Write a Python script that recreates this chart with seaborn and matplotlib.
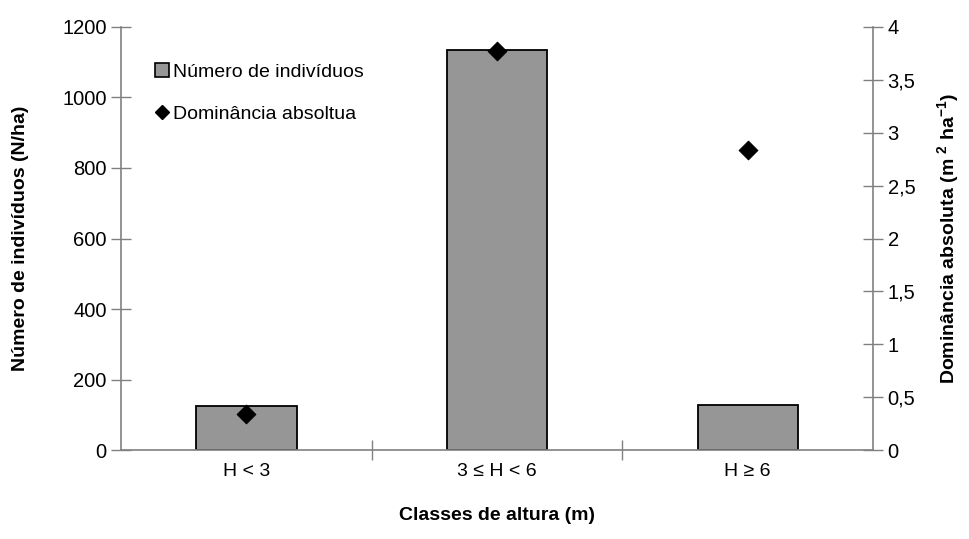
import numpy as np
import pandas as pd
import matplotlib
matplotlib.use("Agg")
import matplotlib.pyplot as plt
from matplotlib.patches import Patch
from matplotlib.lines import Line2D
import matplotlib.ticker as mticker
import seaborn as sns

# data
classes = ["H < 3", "3 ≤ H < 6", "H ≥ 6"]
individuos = [124, 1136, 129]        # N/ha
dominancia = [0.34, 3.77, 2.84]      # m2/ha

sns.set_theme(style="white")
plt.rcParams["font.family"] = ["Liberation Sans", "DejaVu Sans"]
plt.rcParams["text.color"] = "black"
plt.rcParams["axes.labelcolor"] = "black"
plt.rcParams["xtick.color"] = "black"
plt.rcParams["ytick.color"] = "black"
plt.rcParams["mathtext.fontset"] = "custom"
plt.rcParams["mathtext.rm"] = "Liberation Sans:bold"
plt.rcParams["mathtext.it"] = "Liberation Sans:bold"
plt.rcParams["mathtext.bf"] = "Liberation Sans:bold"

df = pd.DataFrame({"classe": classes, "n": individuos, "dom": dominancia,
                   "pos": np.arange(len(classes))})

fig = plt.figure(figsize=(9.69, 5.39), dpi=100)
ax = fig.add_axes([0.125, 0.165, 0.776, 0.785])

sns.barplot(data=df, x="classe", y="n", ax=ax, color="#969696",
            saturation=1, width=0.4, edgecolor="black", linewidth=1.3)

ax2 = ax.twinx()
sns.scatterplot(data=df, x="pos", y="dom", ax=ax2, marker="D", s=90,
                color="black", edgecolor="black", zorder=5, legend=False)

ax.set_xlim(-0.5, len(classes) - 0.5)
ax.set_ylim(0, 1200)
ax.set_yticks(np.arange(0, 1201, 200))
ax2.set_ylim(0, 4)
ax2.set_yticks(np.arange(0, 4.01, 0.5))
ax2.yaxis.set_major_formatter(mticker.FuncFormatter(
    lambda v, p: f"{v:g}".replace(".", ",")))

spine_col = "#808080"
for a in (ax, ax2):
    a.spines["top"].set_visible(False)
    for s in ("left", "right", "bottom"):
        a.spines[s].set_color(spine_col)
        a.spines[s].set_linewidth(1.2)
ax.spines["right"].set_visible(False)
ax2.spines["left"].set_visible(False)
ax2.spines["bottom"].set_visible(False)

# category labels without ticks, ticks at the boundaries
ax.xaxis.set_minor_locator(mticker.FixedLocator([0.5, 1.5]))
ax.tick_params(axis="x", which="major", length=0, pad=9, labelsize=14)
ax.tick_params(axis="x", which="minor", direction="inout", length=14,
               color=spine_col, width=1, bottom=True)
ax.tick_params(axis="y", direction="inout", length=15, color=spine_col,
               width=1, left=True, labelsize=14.5, pad=3)
ax2.tick_params(axis="y", direction="inout", length=15, color=spine_col,
                width=1, right=True, labelsize=14.5, pad=3)

ax.set_xlabel("Classes de altura (m)", fontsize=14, fontweight="bold",
              labelpad=20)
ax.set_ylabel("Número de indivíduos (N/ha)", fontsize=14, fontweight="bold",
              labelpad=24)
ax2.set_ylabel(r"Dominância absoluta (m $^{2}$ ha$^{-1}$)", fontsize=14,
               fontweight="bold", labelpad=14)

handles = [
    Patch(facecolor="#969696", edgecolor="black", linewidth=1.2,
          label="Número de indivíduos"),
    Line2D([], [], marker="D", color="black", linestyle="none",
           markersize=7, label="Dominância absoltua"),
]
leg = ax.legend(handles=handles, loc="upper left",
                bbox_to_anchor=(0.022, 0.955), frameon=False, fontsize=14,
                handlelength=0.7, handletextpad=0.2, labelspacing=1.25)

fig.savefig("out.png", dpi=100)
